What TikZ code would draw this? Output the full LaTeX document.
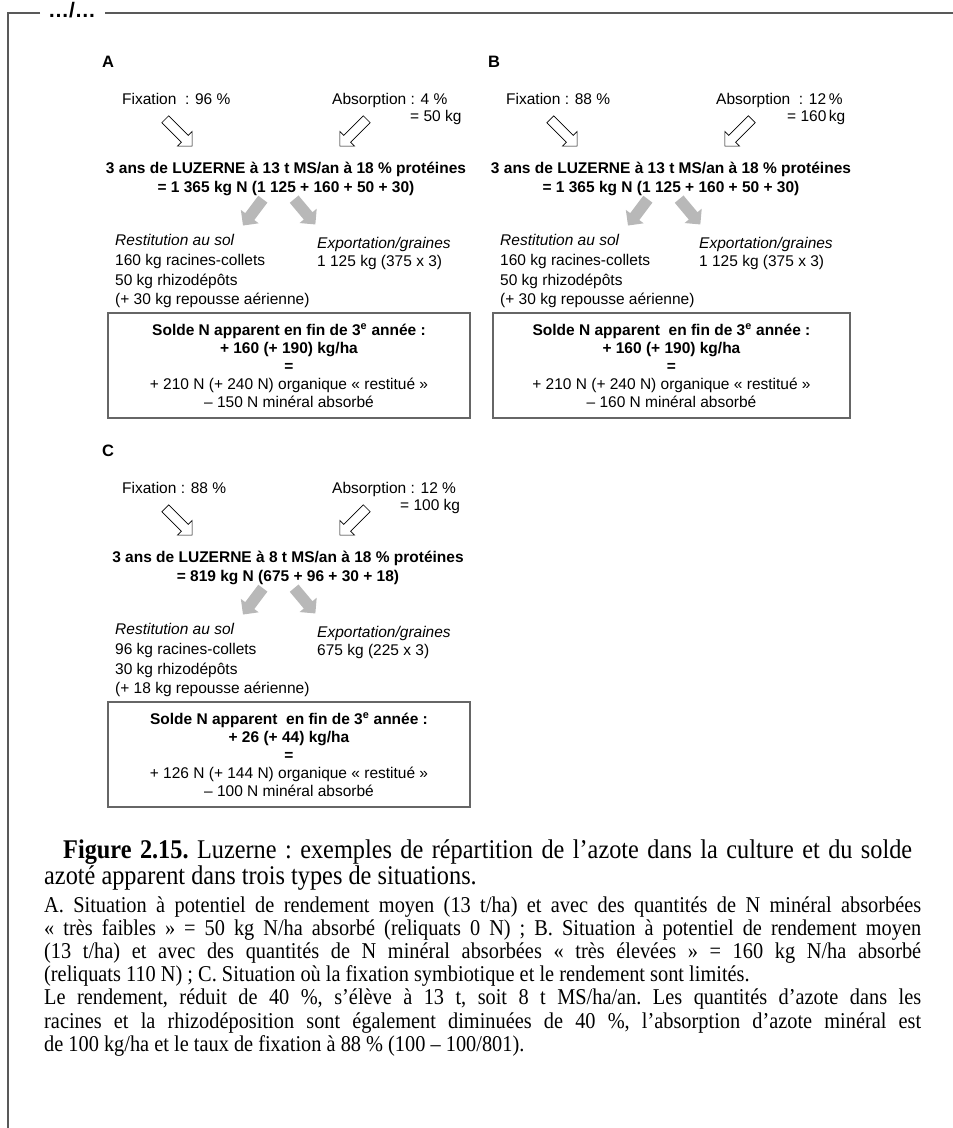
\documentclass[tikz,border=0pt]{standalone}
\usepackage{fontspec}
\setmainfont{Liberation Sans}
\newfontfamily\capfont[FakeStretch=0.9]{Liberation Serif}
\usetikzlibrary{shapes.arrows}

\tikzset{
  txt/.style={anchor=base west,inner sep=0pt,font=\fontsize{15.5}{20}\selectfont},
  btxt/.style={txt,font=\bfseries\fontsize{16.5}{20}\selectfont},
  headline/.style={align=center,inner sep=0pt,font=\bfseries\fontsize{15.5}{19.5}\selectfont},
  soldebox/.style={draw=black!60,line width=2.2pt,align=center,minimum width=362pt,minimum height=105pt,inner sep=0pt,font=\fontsize{15.5}{18}\selectfont},
  fixarrow/.style={single arrow,draw,line width=0.7pt,fill=white,minimum height=38pt,inner xsep=0pt,inner ysep=4.5pt,single arrow head extend=5.5pt,anchor=tail},
  grayarrow/.style={single arrow,fill=black!28,minimum height=33pt,inner xsep=0pt,inner ysep=5.5pt,single arrow head extend=5.5pt,anchor=tail},
  frame/.style={draw=black!65,line width=1.8pt},
}

\begin{document}
\begin{tikzpicture}[x=1pt,y=-1pt]
\useasboundingbox (0,0) rectangle (953,1128);
% cadre
\draw[frame] (40,13) -- (8,13) -- (8,1128);
\draw[frame] (105,13) -- (953,13);
\node[anchor=base,inner sep=0pt,font=\bfseries\fontsize{21}{21}\selectfont] (suite) at (72,17) {…/…};

% fleches des trois cas
\foreach \p/\dx/\dy in {A/0/0,B/385/0,C/0/389}{
  \node[fixarrow,rotate=-45] (arrfix\p) at (165+\dx,119+\dy) {};
  \node[fixarrow,rotate=-135] (arrabs\p) at (367+\dx,119+\dy) {};
  \node[grayarrow,rotate=-127] (arrrest\p) at (263+\dx,199+\dy) {};
  \node[grayarrow,rotate=-50] (arrexp\p) at (294+\dx,199+\dy) {};
}

% A
\node[btxt] (labA) at (102,67) {A};
\node[txt] (fixtxtA) at (122,104) {Fixation~ : 96 \%};
\node[txt] (abstxtA) at (332,104) {Absorption : 4 \%};
\node[txt] (abskgA) at (410,121) {= 50 kg};
\node[headline] (lucA) at (286,179) {3 ans de LUZERNE à 13 t MS/an à 18 \% protéines\\= 1~365 kg N (1~125 + 160 + 50 + 30)};
\node[txt] (restA1) at (115,245.5) {\itshape Restitution au sol};
\node[txt] (restA2) at (115,265.5) {160 kg racines-collets};
\node[txt] (restA3) at (115,285.5) {50 kg rhizodépôts};
\node[txt] (restA4) at (115,304.5) {(+ 30 kg repousse aérienne)};
\node[txt] (expA1) at (317,248) {\itshape Exportation/graines};
\node[txt] (expA2) at (317,266) {1~125 kg (375 x 3)};
\node[soldebox] (soldeA) at (289,365.5) {\textbf{Solde N apparent en fin de 3\textsuperscript{e} année :}\\\textbf{+ 160 (+ 190) kg/ha}\\\textbf{=}\\+ 210 N (+ 240 N) organique «~restitué~»\\– 150 N minéral absorbé};

% B
\node[btxt] (labB) at (488,67) {B};
\node[txt] (fixtxtB) at (506,104) {Fixation : 88 \%};
\node[txt] (abstxtB) at (716,104) {Absorption~ : 12\,\%};
\node[txt] (abskgB) at (787,121) {= 160\,kg};
\node[headline] (lucB) at (671,179) {3 ans de LUZERNE à 13 t MS/an à 18 \% protéines\\= 1~365 kg N (1~125 + 160 + 50 + 30)};
\node[txt] (restB1) at (500,245.5) {\itshape Restitution au sol};
\node[txt] (restB2) at (500,265.5) {160 kg racines-collets};
\node[txt] (restB3) at (500,285.5) {50 kg rhizodépôts};
\node[txt] (restB4) at (500,304.5) {(+ 30 kg repousse aérienne)};
\node[txt] (expB1) at (699,248) {\itshape Exportation/graines};
\node[txt] (expB2) at (699,266) {1~125 kg (375 x 3)};
\node[soldebox,minimum width=357pt] (soldeB) at (671.5,365.5) {\textbf{Solde N apparent\ \ en fin de 3\textsuperscript{e} année :}\\\textbf{+ 160 (+ 190) kg/ha}\\\textbf{=}\\+ 210 N (+ 240 N) organique «~restitué~»\\– 160 N minéral absorbé};

% C
\node[btxt] (labC) at (102,456) {C};
\node[txt] (fixtxtC) at (122,493) {Fixation : 88 \%};
\node[txt] (abstxtC) at (332,493) {Absorption : 12 \%};
\node[txt] (abskgC) at (400,510) {= 100 kg};
\node[headline] (lucC) at (288,568) {3 ans de LUZERNE à 8 t MS/an à 18 \% protéines\\= 819 kg N (675 + 96 + 30 + 18)};
\node[txt] (restC1) at (115,634.5) {\itshape Restitution au sol};
\node[txt] (restC2) at (115,654.5) {96 kg racines-collets};
\node[txt] (restC3) at (115,674.5) {30 kg rhizodépôts};
\node[txt] (restC4) at (115,693.5) {(+ 18 kg repousse aérienne)};
\node[txt] (expC1) at (317,637) {\itshape Exportation/graines};
\node[txt] (expC2) at (317,655) {675 kg (225 x 3)};
\node[soldebox] (soldeC) at (289,754.5) {\textbf{Solde N apparent\ \ en fin de 3\textsuperscript{e} année :}\\\textbf{+ 26 (+ 44) kg/ha}\\\textbf{=}\\+ 126 N (+ 144 N) organique «~restitué~»\\– 100 N minéral absorbé};

% legende
\node[anchor=base west,inner sep=0pt,text width=868pt,align=justify,font=\capfont\frenchspacing\fontsize{27}{26}\selectfont] (legende) at (44,858)
  {\hspace*{19pt}\textbf{Figure 2.15.} Luzerne : exemples de répartition de l’azote dans la culture et du solde\linebreak azoté apparent dans trois types de situations.};
\node[anchor=base west,inner sep=0pt,text width=877pt,align=justify,font=\capfont\frenchspacing\fontsize{22.6}{23.2}\selectfont] (notes) at (44,912)
  {A. Situation à potentiel de rendement moyen (13 t/ha) et avec des quantités de N minéral absorbées\linebreak
  «~très faibles~» = 50 kg N/ha absorbé (reliquats 0 N) ; B. Situation à potentiel de rendement moyen\linebreak
  (13 t/ha) et avec des quantités de N minéral absorbées «~très élevées~» = 160 kg N/ha absorbé\linebreak
  (reliquats 110 N) ; C. Situation où la fixation symbiotique et le rendement sont limités.\\
  Le rendement, réduit de 40 \%, s’élève à 13 t, soit 8 t MS/ha/an. Les quantités d’azote dans les\linebreak
  racines et la rhizodéposition sont également diminuées de 40 \%, l’absorption d’azote minéral est\linebreak
  de 100 kg/ha et le taux de fixation à 88 \% (100 – 100/801).};
\end{tikzpicture}
\end{document}
